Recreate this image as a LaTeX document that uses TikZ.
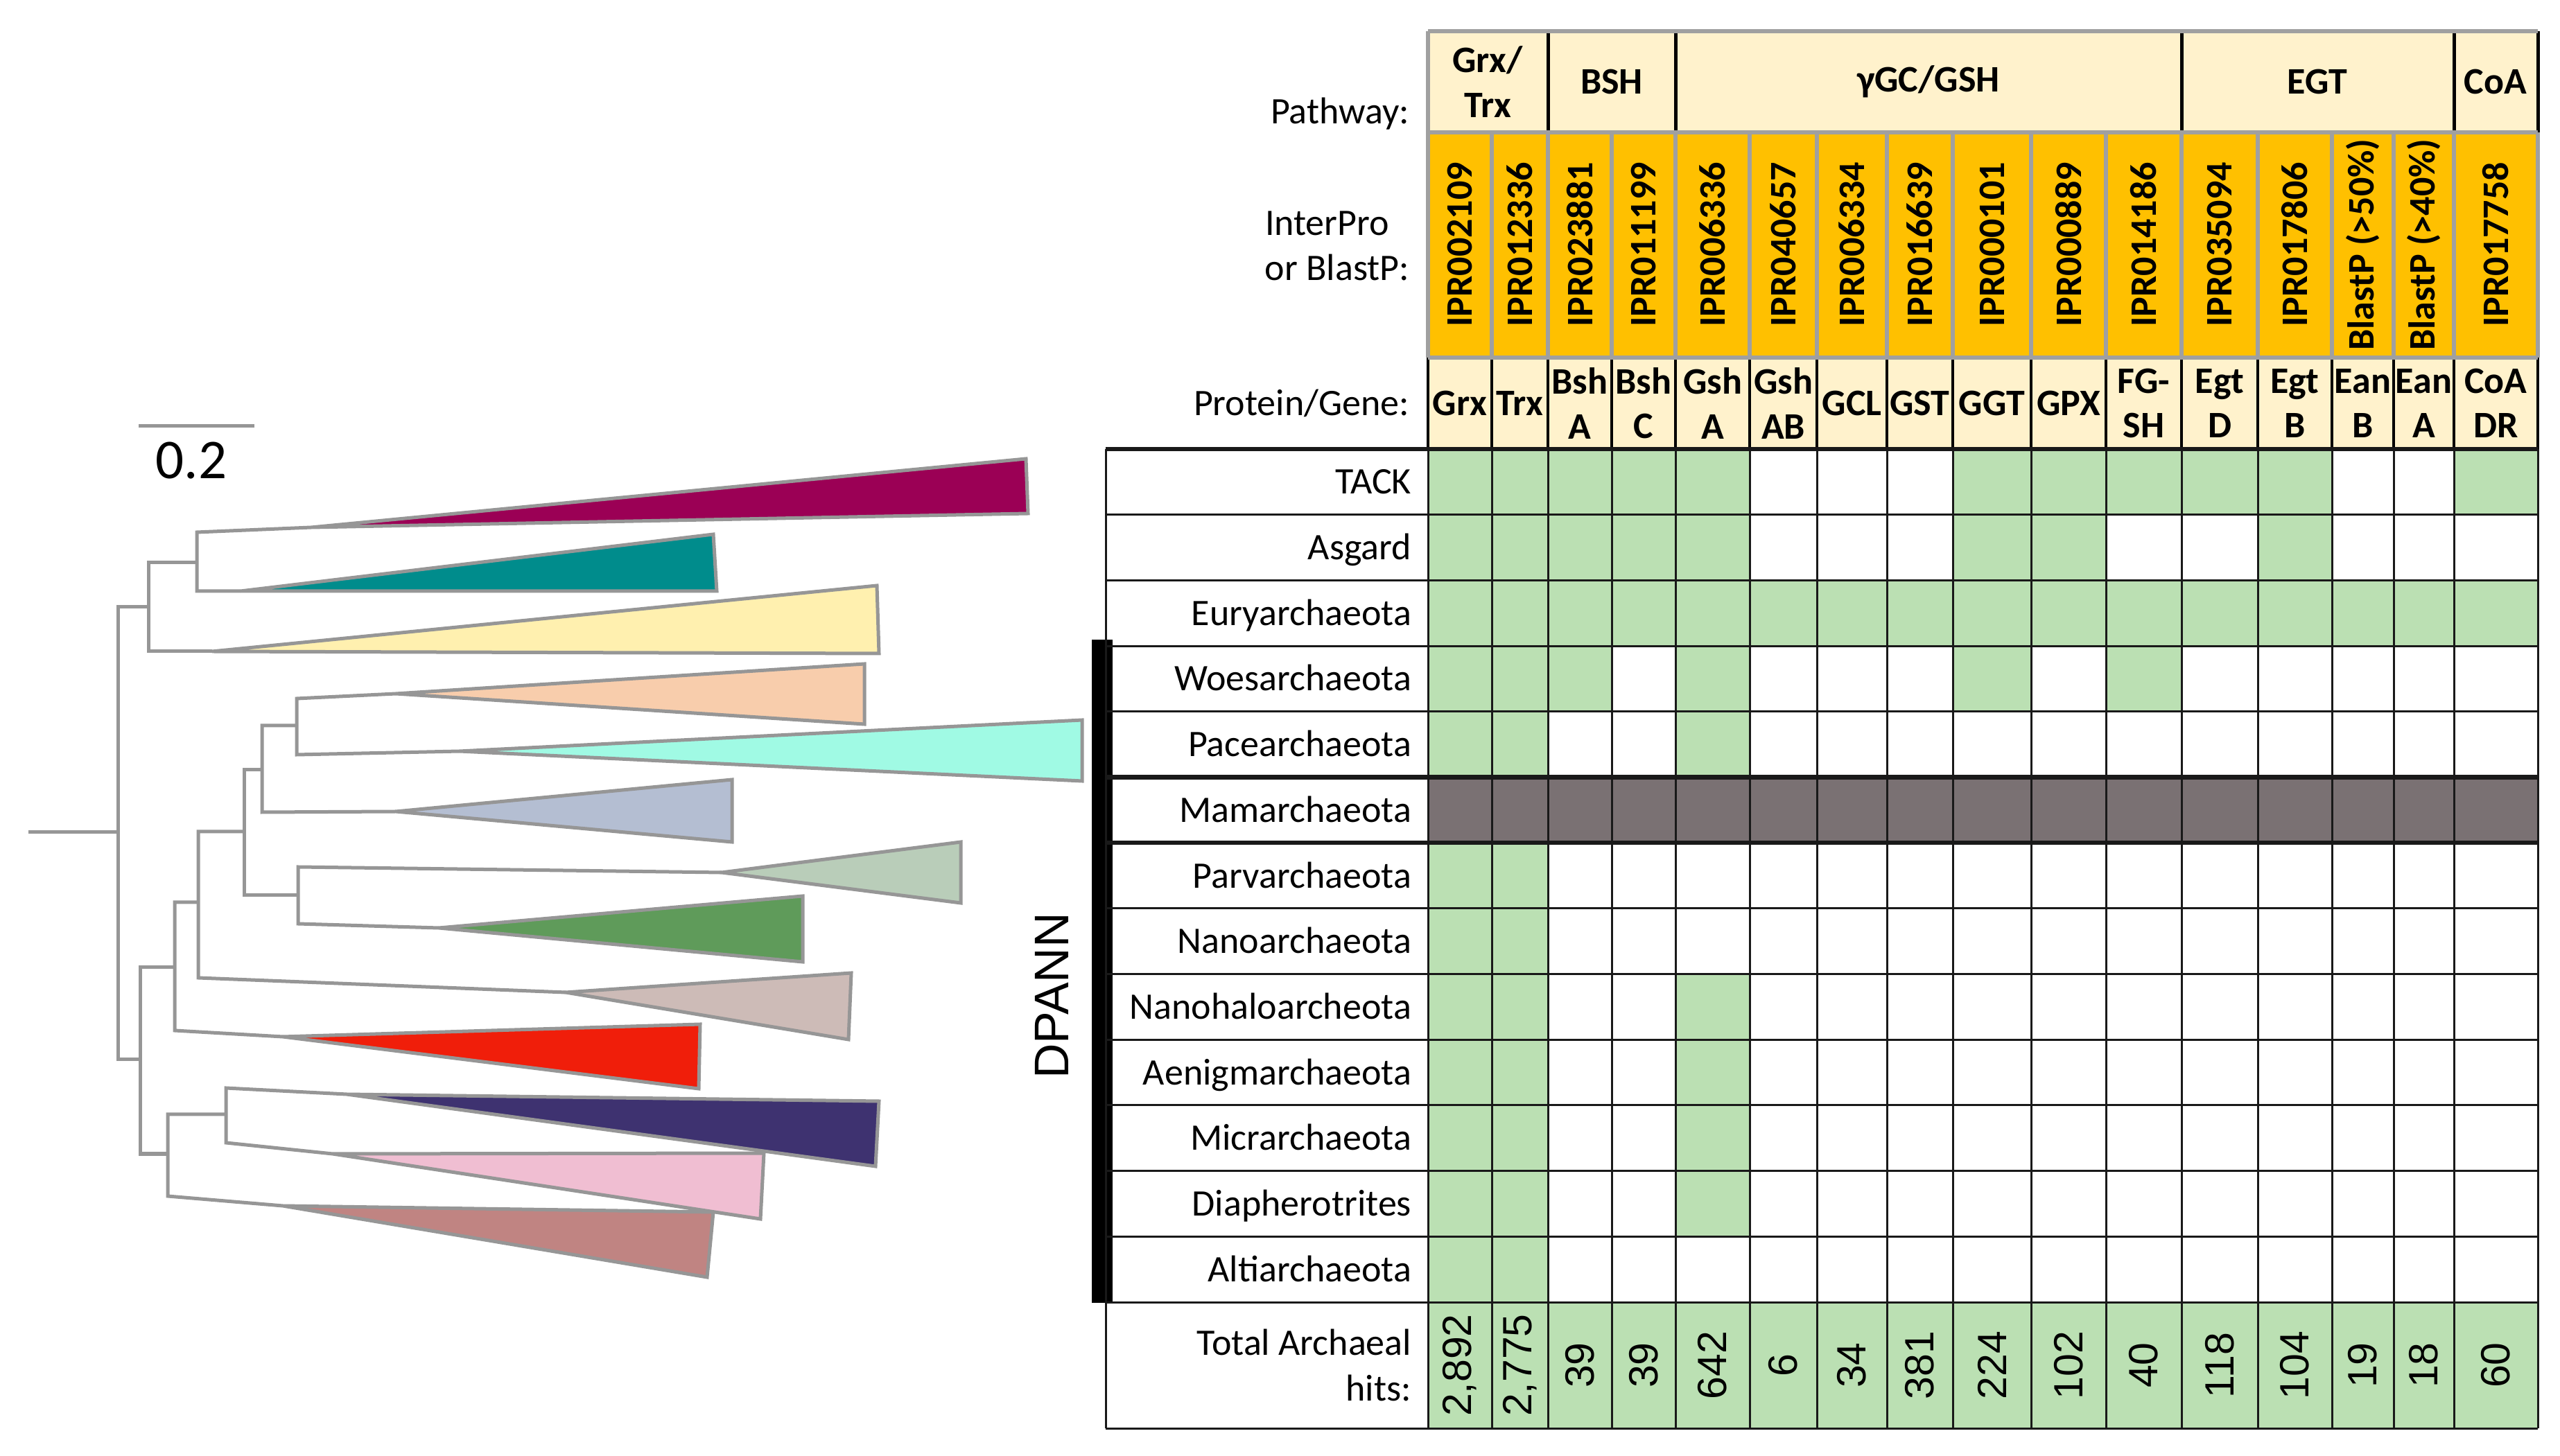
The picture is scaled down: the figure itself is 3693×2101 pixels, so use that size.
\documentclass[tikz,border=0pt]{standalone}
\usepackage{fontspec}
\setmainfont{Carlito}
\newfontfamily\arialf{Liberation Sans}
\definecolor{cream}{RGB}{255,242,204}
\definecolor{gold}{RGB}{255,192,0}
\definecolor{cellg}{RGB}{187,224,179}
\definecolor{darkrow}{RGB}{122,113,115}
\definecolor{treeg}{RGB}{150,150,150}
\definecolor{hgray}{RGB}{160,160,160}
\definecolor{gridc}{RGB}{25,25,25}
\definecolor{cPur}{RGB}{155,0,85}
\definecolor{cTeal}{RGB}{0,140,140}
\definecolor{cYel}{RGB}{255,240,175}
\definecolor{cPeach}{RGB}{248,205,172}
\definecolor{cAqua}{RGB}{160,250,228}
\definecolor{cGB}{RGB}{180,190,210}
\definecolor{cSage}{RGB}{185,205,185}
\definecolor{cGreen}{RGB}{95,155,90}
\definecolor{cTaupe}{RGB}{205,187,183}
\definecolor{cRed}{RGB}{240,30,10}
\definecolor{cNavy}{RGB}{62,50,112}
\definecolor{cPink}{RGB}{240,190,210}
\definecolor{cBrown}{RGB}{192,132,130}
\newcommand\tabfont{\fontsize{10.8}{12.9}\selectfont}
\begin{document}
\begin{tikzpicture}[x=0.2pt,y=-0.2pt,
  every node/.style={inner sep=0pt,outer sep=0pt},
  lbl/.style={font=\tabfont},
  hd/.style={font=\tabfont\bfseries,align=center},
  ipr/.style={font=\tabfont\bfseries,rotate=90},
  tot/.style={font=\arialf\fontsize{11.8}{14}\selectfont,rotate=90},
  branch/.style={draw=treeg,line width=1pt,line join=miter},
  clade/.style={draw=treeg,line width=1pt,line join=miter},
  gridl/.style={draw=gridc,line width=0.6pt},
  hgrayl/.style={draw=hgray,line width=1.3pt},
  iprl/.style={draw=hgray,line width=1.1pt},
  blkl/.style={draw=black,line width=1pt},
  protl/.style={draw=black,line width=0.8pt}]
\useasboundingbox (0,0) rectangle (3693,2101);
\def\xs{{2060,2152,2233,2325,2417,2524,2621,2722,2817,2930,3038,3147,3257,3364,3453,3540,3661}}

% ---------------- tree ----------------
\coordinate (root0) at (41,1201);
\coordinate (root) at (170,1201);
\coordinate (rootT) at (170,876);
\coordinate (rootB) at (170,1529);
\coordinate (n1) at (214,876);
\coordinate (n1T) at (214,812);
\coordinate (n1B) at (214,940);
\coordinate (n2) at (284,812);
\coordinate (n2T) at (284,768);
\coordinate (n2B) at (284,853);
\coordinate (nA) at (202,1529);
\coordinate (nAT) at (202,1396);
\coordinate (nAB) at (202,1665);
\coordinate (nB) at (252,1396);
\coordinate (nBT) at (252,1302);
\coordinate (nBB) at (252,1487);
\coordinate (nC) at (286,1302);
\coordinate (nCT) at (286,1200);
\coordinate (nCB) at (286,1411);
\coordinate (nD) at (352,1200);
\coordinate (nDT) at (352,1111);
\coordinate (nDB) at (352,1292);
\coordinate (nE) at (378,1111);
\coordinate (nET) at (378,1047);
\coordinate (nEB) at (378,1172);
\coordinate (nF) at (428,1047);
\coordinate (nFT) at (428,1008);
\coordinate (nFB) at (428,1089);
\coordinate (nG) at (430,1292);
\coordinate (nGT) at (430,1251);
\coordinate (nGB) at (430,1333);
\coordinate (nH) at (242,1665);
\coordinate (nHT) at (242,1608);
\coordinate (nHB) at (242,1726);
\coordinate (nI) at (326,1608);
\coordinate (nIT) at (326,1570);
\coordinate (nIB) at (326,1649);
% clade apices and corners
\coordinate (purA) at (449,761);  \coordinate (purT) at (1480,662);  \coordinate (purB) at (1483,741);
\coordinate (tealA) at (347,853); \coordinate (tealT) at (1029,771); \coordinate (tealB) at (1034,853);
\coordinate (yelA) at (306,940);  \coordinate (yelT) at (1265,845);  \coordinate (yelB) at (1268,943);
\coordinate (peachA) at (571,1001); \coordinate (peachT) at (1247,958); \coordinate (peachB) at (1247,1045);
\coordinate (aquaA) at (663,1084); \coordinate (aquaT) at (1561,1039); \coordinate (aquaB) at (1561,1127);
\coordinate (gbA) at (571,1171); \coordinate (gbT) at (1056,1125); \coordinate (gbB) at (1056,1215);
\coordinate (sageA) at (1041,1259); \coordinate (sageT) at (1386,1215); \coordinate (sageB) at (1386,1303);
\coordinate (greenA) at (633,1339); \coordinate (greenT) at (1158,1293); \coordinate (greenB) at (1158,1388);
\coordinate (taupeA) at (816,1432); \coordinate (taupeT) at (1228,1404); \coordinate (taupeB) at (1224,1500);
\coordinate (redA) at (408,1496); \coordinate (redT) at (1010,1478); \coordinate (redB) at (1008,1571);
\coordinate (navyA) at (500,1579); \coordinate (navyT) at (1268,1589); \coordinate (navyB) at (1263,1683);
\coordinate (pinkA) at (480,1665); \coordinate (pinkT) at (1102,1664); \coordinate (pinkB) at (1097,1759);
\coordinate (brownA) at (408,1740); \coordinate (brownT) at (1029,1749); \coordinate (brownB) at (1020,1843);

\draw[branch] (root0) -- (root);
\draw[branch] (n1) -- (rootT) -- (rootB) -- (nA);
\draw[branch] (n2) -- (n1T) -- (n1B) -- (yelA);
\draw[branch] (purA) -- (n2T) -- (n2B) -- (tealA);
\draw[branch] (nB) -- (nAT) -- (nAB) -- (nH);
\draw[branch] (nC) -- (nBT) -- (nBB) -- (redA);
\draw[branch] (nD) -- (nCT) -- (nCB) -- (taupeA);
\draw[branch] (nE) -- (nDT) -- (nDB) -- (nG);
\draw[branch] (nF) -- (nET) -- (nEB) -- (gbA);
\draw[branch] (peachA) -- (nFT) -- (nFB) -- (aquaA);
\draw[branch] (sageA) -- (nGT) -- (nGB) -- (greenA);
\draw[branch] (nI) -- (nHT) -- (nHB) -- (brownA);
\draw[branch] (navyA) -- (nIT) -- (nIB) -- (pinkA);

\filldraw[clade,fill=cBrown] (brownA) -- (brownT) -- (brownB) -- cycle;
\filldraw[clade,fill=cPink] (pinkA) -- (pinkT) -- (pinkB) -- cycle;
\filldraw[clade,fill=cNavy] (navyA) -- (navyT) -- (navyB) -- cycle;
\filldraw[clade,fill=cRed] (redA) -- (redT) -- (redB) -- cycle;
\filldraw[clade,fill=cTaupe] (taupeA) -- (taupeT) -- (taupeB) -- cycle;
\filldraw[clade,fill=cGreen] (greenA) -- (greenT) -- (greenB) -- cycle;
\filldraw[clade,fill=cSage] (sageA) -- (sageT) -- (sageB) -- cycle;
\filldraw[clade,fill=cGB] (gbA) -- (gbT) -- (gbB) -- cycle;
\filldraw[clade,fill=cAqua] (aquaA) -- (aquaT) -- (aquaB) -- cycle;
\filldraw[clade,fill=cPeach] (peachA) -- (peachT) -- (peachB) -- cycle;
\filldraw[clade,fill=cYel] (yelA) -- (yelT) -- (yelB) -- cycle;
\filldraw[clade,fill=cTeal] (tealA) -- (tealT) -- (tealB) -- cycle;
\filldraw[clade,fill=cPur] (purA) -- (purT) -- (purB) -- cycle;

% scale bar
\coordinate (sbL) at (200,615);
\coordinate (sbR) at (367,615);
\draw[branch] (sbL) -- (sbR);
\node[font=\fontsize{16.2}{18}\selectfont] (scalelbl) at (276,665) {0.2};

% DPANN bracket
\fill[black] (1575,923) rectangle (1605,1880);
\node[font=\arialf\fontsize{14}{16}\selectfont,rotate=90] (dpann) at (1517,1437) {DPANN};

% ---------------- table fills ----------------
\fill[cream] (2060,45) rectangle (3661,191);
\fill[gold] (2060,191) rectangle (3661,516);
\fill[cream] (2060,516) rectangle (3661,648);
\foreach \r/\ca/\cb in {1/0/4,1/8/12,1/15/15,2/0/4,2/8/9,2/12/12,3/0/15,4/0/2,4/4/4,4/8/8,4/10/10,5/0/1,5/4/4,7/0/1,8/0/1,9/0/1,9/4/4,10/0/1,10/4/4,11/0/1,11/4/4,12/0/1,12/4/4,13/0/1}{
  \pgfmathsetmacro\xa{\xs[\ca]}
  \pgfmathsetmacro\xb{\xs[\cb+1]}
  \pgfmathsetmacro\ya{648+94.7*(\r-1)}
  \fill[cellg] (\xa,\ya) rectangle (\xb,\ya+94.7);
}
\fill[darkrow] (2060,1121.5) rectangle (3661,1216.2);
\fill[cellg] (2060,1879.1) rectangle (3661,2061);

% ---------------- grid ----------------
\foreach \r in {0,...,13} \draw[gridl] (1595,{648+94.7*\r}) -- (3661,{648+94.7*\r});
\draw[gridl] (1595,2061) -- (3661,2061);
\draw[gridl] (1595,648) -- (1595,2061);
\foreach \c in {0,...,16}{
  \pgfmathsetmacro\xa{\xs[\c]}
  \draw[gridl] (\xa,648) -- (\xa,2061);
  \draw[protl] (\xa,516) -- (\xa,648);
}
\foreach \c in {1,...,16}{
  \pgfmathsetmacro\xa{\xs[\c]}
  \draw[iprl] (\xa,191) -- (\xa,516);
}
\foreach \xa in {2233,2417,3147,3540,3661} \draw[blkl] (\xa,45) -- (\xa,191);
\draw[draw=gridc,line width=1.2pt] (1595,648) -- (3661,648);
\draw[draw=gridc,line width=1.3pt] (1595,1121.5) -- (3661,1121.5);
\draw[draw=gridc,line width=1.1pt] (1595,1216.2) -- (3661,1216.2);
\draw[hgrayl] (2060,45) -- (3661,45);
\draw[hgrayl] (2060,45) -- (2060,516);
\draw[hgrayl] (2060,191) -- (3661,191);
\draw[hgrayl] (2060,516) -- (3661,516);

% ---------------- header texts ----------------
\node[lbl,anchor=base east] (pwlbl) at (2033,179) {Pathway:};
\node[lbl,anchor=base west] (iplbl1) at (1825,340) {InterPro};
\node[lbl,anchor=base east] (iplbl2) at (2033,405) {or BlastP:};
\node[lbl,anchor=base east] (pglbl) at (2033,600) {Protein/Gene:};

\node[hd] (pwA) at (2146,118) {Grx/\\Trx};
\node[hd] (pwB) at (2325,118) {BSH};
\node[hd] (pwC) at (2782,118) {γGC/GSH};
\node[hd] (pwD) at (3343,118) {EGT};
\node[hd] (pwE) at (3600,118) {CoA};

\foreach \xl/\xr/\ipr/\prot/\tot [count=\i] in {
 2060/2152/IPR002109/Grx/{2,892},
 2152/2233/IPR012336/Trx/{2,775},
 2233/2325/IPR023881/Bsh\\A/39,
 2325/2417/IPR011199/Bsh\\C/39,
 2417/2524/IPR006336/Gsh\\A/642,
 2524/2621/IPR040657/Gsh\\AB/6,
 2621/2722/IPR006334/GCL/34,
 2722/2817/IPR016639/GST/381,
 2817/2930/IPR000101/GGT/224,
 2930/3038/IPR000889/GPX/102,
 3038/3147/IPR014186/FG-\\SH/40,
 3147/3257/IPR035094/Egt\\D/118,
 3257/3364/IPR017806/Egt\\B/104,
 3364/3453/{BlastP (>50\%)}/Ean\\B/19,
 3453/3540/{BlastP (>40\%)}/Ean\\A/18,
 3540/3661/IPR017758/CoA\\DR/60}{
  \node[ipr] (ipr\i) at ({(\xl+\xr)/2},353) {\ipr};
  \node[hd] (prot\i) at ({(\xl+\xr)/2},582) {\prot};
  \node[tot] (tot\i) at ({(\xl+\xr)/2},1970) {\tot};
}

% ---------------- row labels ----------------
\foreach \name [count=\r] in {TACK,Asgard,Euryarchaeota,Woesarchaeota,Pacearchaeota,Mamarchaeota,Parvarchaeota,Nanoarchaeota,Nanohaloarcheota,Aenigmarchaeota,Micrarchaeota,Diapherotrites,Altiarchaeota}{
  \node[lbl,anchor=base east] (lab\r) at (2036,{648+94.7*(\r-0.5)+17.5}) {\name};
}
\node[lbl,anchor=base east] (totA) at (2036,1955) {Total Archaeal};
\node[lbl,anchor=base east] (totB) at (2036,2021) {hits:};
\end{tikzpicture}
\end{document}
